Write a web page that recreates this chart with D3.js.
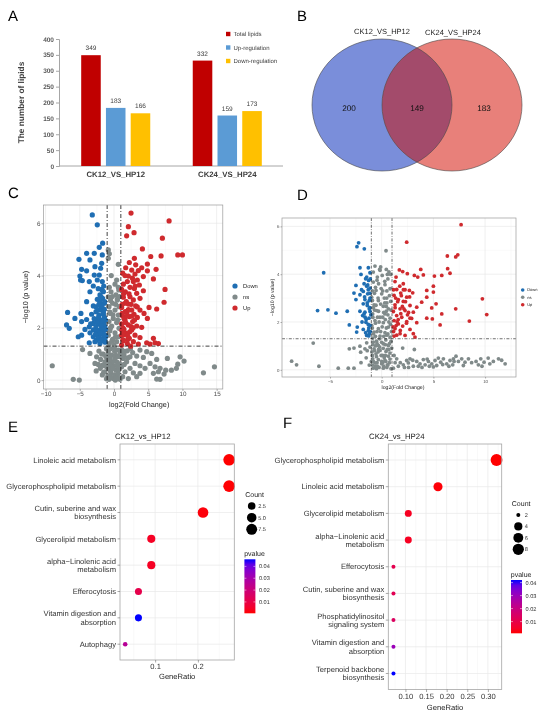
<!DOCTYPE html>
<html>
<head>
<meta charset="utf-8">
<script src="https://cdn.jsdelivr.net/npm/d3@7"></script>
<style>
  body { margin: 0; background: #fff; }
  svg { display: block; font-family: Arial, "Liberation Sans", sans-serif; will-change: transform; text-rendering: geometricPrecision; }
</style>
</head>
<body>
<svg id="fig" width="550" height="717"></svg>
<script>
/* ================= Data ================= */

// A: lipid counts
const barGroups = ["CK12_VS_HP12", "CK24_VS_HP24"];
const barSeries = ["Total lipids", "Up-regulation", "Down-regulation"];
const totalLipids = [349, 332];
const upRegulation = [183, 159];
const downRegulation = [166, 173];
const barTicks = [0, 50, 100, 150, 200, 250, 300, 350, 400];

// B: venn
const vennSets = ["CK12_VS_HP12", "CK24_VS_HP24"];
const vennCounts = [200, 149, 183]; // only left, shared, only right

// C: volcano CK12 vs HP12  [log2FC, -log10 p]
const volcC_down = [
  [-3.17,6.32],[-2.44,5.94],[-1.66,5.24],[-2.15,5.08],[-4.0,4.85],[-2.88,4.85],[-1.71,4.79],[-5.12,4.62],
  [-3.51,4.6],[-1.8,4.47],[-2.78,4.34],[-1.95,4.28],[-4.73,4.24],[-4.0,4.18],[-2.88,4.02],[-2.15,4.02],
  [-4.98,3.98],[-4.88,3.83],[-4.63,3.81],[-3.61,3.77],[-2.44,3.83],[-1.71,3.77],[-3.02,3.6],[-1.8,3.47],
  [-3.51,3.38],[-1.56,3.38],[-2.05,3.26],[-2.44,3.09],[-1.66,3.13],[-4.0,3.0],[-2.05,3.0],[-1.41,2.94],
  [-3.02,2.84],[-1.9,2.81],[-6.78,2.59],[-4.83,2.55],[-3.27,2.52],[-2.2,2.49],[-1.56,2.52],[-5.71,2.36],
  [-4.0,2.32],[-2.54,2.3],[-1.95,2.3],[-4.73,2.24],[-3.02,2.17],[-2.2,2.15],[-1.46,2.17],[-6.93,2.11],
  [-3.61,2.04],[-2.63,2.04],[-1.8,2.02],[-6.54,1.98],[-4.24,1.94],[-3.02,1.92],[-2.15,1.89],[-1.41,1.92],
  [-3.51,1.81],[-2.54,1.79],[-1.8,1.76],[-4.73,1.72],[-5.22,1.66],[-3.02,1.66],[-2.15,1.63],[-1.46,1.63],
  [-2.54,1.53],[-1.71,1.51],[-3.61,1.43],[-2.78,1.47],[-2.05,1.4],[-3.41,2.15],[-2.29,2.68],[-1.8,2.68],
  [-2.63,2.62],[-1.41,2.71],[-1.9,3.19],[-1.3,1.45],[-1.25,2.3],[-1.6,1.85],[-2.4,1.9],[-1.35,2.05],
  [-2.9,2.35],[-1.2,1.7],[-1.5,3.6],[-2.6,2.8],
  [-1.3,1.6],[-1.5,1.75],[-1.7,1.95],[-1.9,2.1],[-2.1,2.25],[-2.3,1.65],[-1.4,2.4],[-1.65,2.3],
  [-1.85,1.55],[-2.0,1.8],[-2.25,2.4],[-2.45,2.2],[-1.25,1.95],[-1.55,2.6],[-2.7,1.75],[-1.75,2.85],
  [-1.35,3.0],[-2.2,2.9],[-1.6,3.4],[-2.3,3.5]
];
const volcC_ns = [
  [-0.83,4.98],[-0.68,4.83],[-0.83,4.66],[0.63,4.43],[0.39,3.83],[0.15,3.67],[-0.68,3.55],[0.63,3.55],
  [-0.44,3.38],[0.29,3.26],[-0.83,3.19],[0.49,3.07],[-0.2,2.94],[-0.73,2.81],[0.73,2.81],[0.15,2.68],
  [-0.54,2.55],[0.63,2.49],[-0.1,2.36],[-0.73,2.24],[0.39,2.2],[-0.34,2.07],[0.73,1.98],[-0.59,1.89],
  [0.15,1.81],[-0.83,1.72],[0.63,1.66],[-0.2,1.56],[0.39,1.47],[-0.68,1.4],[0.0,1.34],
  [-9.02,0.55],[-5.95,0.03],[-5.07,0.0],[-4.59,1.17],[-2.2,1.11],[-1.56,1.0],[-2.54,0.89],[-1.95,0.79],
  [-1.32,0.7],[-1.66,0.57],[-1.07,0.51],[-1.32,0.32],[-0.83,1.09],[-0.34,0.96],[0.15,0.83],[-0.59,0.77],
  [0.49,0.68],[-0.2,0.57],[-0.83,0.45],[0.29,0.38],[-0.44,0.26],[0.49,0.15],[-0.1,0.06],[-0.73,0.03],
  [0.88,0.03],[1.12,1.17],[1.95,1.12],[2.73,1.05],[1.46,0.96],[3.8,1.15],[4.78,1.09],[5.51,1.02],
  [1.37,0.83],[2.34,0.89],[3.32,0.92],[4.29,0.87],[6.24,0.79],[7.8,0.83],[9.66,0.89],[10.24,0.73],
  [9.32,0.61],[1.85,0.7],[3.07,0.64],[3.8,0.55],[5.27,0.64],[1.12,0.51],[2.34,0.45],[4.54,0.45],
  [6.0,0.51],[6.73,0.45],[7.56,0.38],[8.39,0.38],[9.12,0.45],[1.61,0.32],[2.83,0.28],[3.8,0.26],
  [5.76,0.26],[6.49,0.32],[7.32,0.23],[1.27,0.13],[2.1,0.06],[3.32,0.13],[6.24,0.04],[6.73,0.03],
  [13.07,0.28],[14.68,0.51],[-3.51,1.02],[-2.78,0.64],
  [-1.8,1.0],[-1.2,0.9],[-0.5,1.2],[0.6,1.15],[-2.3,0.6],[-1.0,0.75],[0.3,0.95],[-0.3,0.5],[0.7,0.4],
  [-1.5,0.3],[0.1,0.2],[-0.9,0.15],[0.9,0.6],[1.5,0.6],[2.0,0.85],[-0.6,2.6],[0.5,3.1],[-0.4,4.0],
  [0.8,3.2],[0.1,1.1],[-0.2,0.7],[0.45,0.55],[-0.65,0.6],[1.6,1.1],[2.4,1.2],[-1.1,1.2],[0.2,0.0],
  [-0.5,0.35],[0.8,0.9],[-0.9,0.95],
  [-2.0,0.45],[-1.7,0.2],[-1.1,0.05],[-0.4,0.1],[0.3,0.05],[0.6,0.25],[-0.1,0.45],[-0.55,0.85],
  [0.05,1.25],[-0.95,1.25],[0.55,0.9],[0.95,1.05],[-1.4,0.55],[-2.6,0.35],[-0.3,1.5],[0.2,1.65],
  [-0.5,2.0],[0.55,2.3],[-0.15,2.5],[0.25,2.9],[-0.5,3.05],[0.7,3.45],[-0.25,3.2]
];
const volcC_up = [
  [2.49,6.39],[8.05,6.09],[2.1,5.87],[2.93,5.64],[1.85,5.52],[7.07,5.43],[4.15,5.02],[9.32,4.79],
  [10.0,4.79],[6.88,4.75],[5.37,4.73],[2.98,4.66],[2.24,4.5],[4.88,4.44],[3.17,4.41],[1.71,4.3],
  [4.05,4.3],[6.15,4.24],[2.59,4.21],[3.56,4.19],[4.88,4.18],[1.27,4.09],[3.07,4.06],[2.1,3.98],
  [4.29,3.96],[5.76,3.87],[3.41,3.83],[1.95,3.77],[2.83,3.77],[1.37,3.67],[3.71,3.64],[2.34,3.55],
  [2.98,3.51],[1.12,3.47],[7.46,3.47],[4.29,3.42],[1.66,3.38],[3.32,3.32],[2.34,3.19],[1.37,3.17],
  [3.8,3.13],[2.83,3.07],[7.32,2.98],[1.61,2.94],[2.1,2.91],[3.17,2.84],[1.12,2.78],[5.12,2.78],
  [6.24,2.72],[2.59,2.68],[3.8,2.68],[1.66,2.62],[4.39,2.55],[2.93,2.52],[1.27,2.45],[2.24,2.43],
  [3.41,2.4],[4.88,2.36],[1.61,2.3],[2.73,2.24],[1.12,2.15],[2.1,2.11],[3.32,2.07],[4.05,2.02],
  [1.46,1.94],[2.59,1.92],[1.8,1.79],[1.12,1.72],[3.07,1.72],[3.8,1.63],[2.24,1.6],[5.76,1.6],
  [1.37,1.51],[4.78,1.43],[6.0,1.43],[5.27,1.38],[6.49,1.4],[1.95,1.4],[2.83,1.47],[3.56,1.38],
  [1.12,1.34],[2.44,1.3],[1.3,2.0],[1.9,2.6],[2.5,2.05],[1.5,2.35],[1.2,2.9],[2.0,1.55],
  [1.3,1.55],[1.5,1.75],[1.7,2.2],[1.9,2.45],[2.1,2.7],[2.3,1.85],[2.6,2.45],[2.8,2.0],
  [3.0,2.3],[1.2,2.55],[1.4,3.3],[1.8,3.0],[2.2,3.3],[2.5,2.9],[3.1,3.6],[1.6,4.0],
  [2.7,3.9],[1.15,1.9],[3.4,2.8],[2.0,1.7]
];

// D: volcano CK24 vs HP24
const volcD_down = [
  [-5.61,4.06],[-6.2,2.48],[-5.2,2.51],[-4.42,2.37],[-3.33,2.45],[-3.13,1.88],[-2.23,5.31],[-2.39,5.15],
  [-1.68,5.06],[-2.1,4.27],[-1.29,4.27],[-2.0,3.99],[-1.13,4.06],[-1.55,3.81],[-1.26,3.74],[-2.49,3.53],
  [-1.45,3.5],[-1.13,3.42],[-1.78,3.28],[-2.68,3.21],[-1.36,3.18],[-2.1,3.14],[-2.49,2.94],[-1.62,2.94],
  [-1.2,2.9],[-1.78,2.76],[-1.39,2.69],[-2.1,2.45],[-1.62,2.41],[-1.13,2.44],[-1.84,2.27],[-1.23,2.16],
  [-1.52,1.99],[-1.13,1.86],[-2.36,1.79],[-1.78,1.69],[-1.29,1.64],[-2.42,1.58],[-1.45,1.44],[-1.2,1.51],
  [-1.13,3.0],[-1.45,3.88],[-1.3,3.35],[-1.6,2.2],[-1.25,1.75],[-1.15,2.6],
  [-1.1,1.6],[-1.3,1.9],[-1.5,2.1],[-1.7,2.35],[-1.2,2.55],[-1.4,2.8],[-1.65,3.05],[-1.15,3.2],
  [-1.35,3.55],[-1.7,3.6],[-1.1,3.8],[-1.9,2.0],[-1.25,1.42],[-1.95,3.35],[-1.05,2.3],[-1.55,1.55]
];
const volcD_ns = [
  [0.42,4.98],[-0.65,4.34],[-0.81,4.09],[-0.16,4.16],[0.55,3.99],[0.87,3.99],[-0.42,3.88],[0.32,3.56],
  [-0.81,3.67],[0.81,3.39],[-0.55,3.32],[0.0,3.18],[-0.97,3.04],[0.49,3.0],[-0.32,2.9],[0.87,2.86],
  [-0.74,2.72],[0.16,2.66],[0.65,2.55],[-0.49,2.48],[-0.87,2.34],[0.32,2.34],[-0.16,2.2],[0.81,2.16],
  [-0.65,2.06],[0.16,1.97],[-0.97,1.86],[0.65,1.79],[-0.32,1.72],[-0.74,1.58],[0.32,1.55],[-0.16,1.41],
  [0.81,1.37],[-0.87,1.33],
  [-8.71,0.36],[-8.23,0.21],[-6.62,1.12],[-6.07,0.15],[-4.2,0.07],[-3.13,0.88],[-3.23,0.07],[-2.68,0.07],
  [-2.68,0.91],[-2.1,0.99],[-2.03,0.74],[-1.62,0.88],[-1.45,1.13],[-1.13,0.95],[-0.81,1.16],[-0.32,1.02],
  [0.16,1.09],[0.65,1.02],[-0.74,0.88],[-0.16,0.81],[0.42,0.77],[0.97,0.91],[-0.55,0.67],[0.1,0.6],
  [0.65,0.57],[-0.87,0.46],[-0.32,0.43],[0.32,0.39],[-0.65,0.29],[0.0,0.25],[0.55,0.21],[-0.42,0.15],
  [0.16,0.07],[-0.81,0.07],[1.45,0.46],[2.03,0.91],[3.16,0.85],[1.13,0.07],[1.61,0.15],[2.09,0.21],
  [2.58,0.29],[3.06,0.15],[3.39,0.35],[3.71,0.25],[4.03,0.43],[4.2,0.21],[4.52,0.35],[4.84,0.25],
  [5.16,0.39],[5.32,0.18],[5.71,0.32],[5.97,0.46],[6.29,0.25],[6.61,0.39],[6.87,0.21],[7.19,0.57],
  [7.42,0.35],[7.74,0.46],[8.06,0.32],[8.39,0.46],[9.13,0.35],[9.35,0.21],[9.58,0.46],[9.9,0.32],
  [10.3,0.49],[10.46,0.25],[11.3,0.46],[11.94,0.25],[2.74,0.46],[2.42,0.39],[3.54,0.15],[4.61,0.15],
  [5.48,0.49],[6.94,0.46],
  [-0.3,3.6],[0.6,3.8],[-0.9,2.9],[0.2,2.4],[-0.5,1.2],[0.4,1.25],[-0.2,0.95],[0.8,0.7],[-0.9,0.6],
  [0.0,0.35],[0.5,0.1],[-0.5,0.05],[0.9,1.2],[-0.1,1.6],[0.3,2.8],[-0.7,3.2],[0.7,2.0],[-0.4,2.2],
  [0.1,3.3],[-0.8,1.5],[1.2,0.6],[1.8,0.3],[2.2,0.1],[-1.5,0.5],[-1.2,0.2],[-2.0,0.3],[0.7,4.1],
  [-0.2,4.2],[0.5,1.45],[-0.6,1.0],[0.25,0.5],[-0.35,0.75],[0.75,0.3],[-0.7,2.5],[0.45,2.65],
  [-0.9,0.2],[-0.6,0.15],[-0.25,0.1],[0.2,0.15],[0.6,0.2],[0.9,0.05],[-0.8,0.35],[-0.45,0.3],
  [0.1,0.3],[0.4,0.35],[0.8,0.45],[-0.95,0.75],[-0.5,0.55],[-0.05,0.6],[0.35,0.6],[0.7,0.85],
  [-0.7,0.8],[-0.3,0.85],[0.15,0.9],[0.55,0.85],[-0.85,1.05],[-0.45,1.1],[0.0,1.15],[0.35,1.05],
  [0.75,1.1],[-0.6,1.4],[-0.2,1.3],[0.2,1.4],[0.6,1.5],[0.95,1.6],[-0.9,1.75],[-0.45,1.6],
  [0.05,1.8],[0.45,1.75],[0.85,1.9],[-0.6,1.95],[-0.25,2.0],[0.35,2.1],[0.6,2.3],[-0.85,2.2],
  [-0.3,2.45],[0.1,2.2],[0.45,2.45],[0.9,2.5],[-0.55,2.7],[-0.1,2.75],[0.5,2.8],[-0.8,2.6],
  [-0.35,3.0],[0.25,3.0],[0.75,3.1],[-0.6,3.45],[-0.05,3.4],[0.5,3.3],[-0.9,3.3],[0.3,3.7],
  [-0.45,3.75],[0.05,3.95],[-0.1,4.3],[0.45,4.2],
  [1.3,0.3],[2.6,0.1],[3.0,0.4],[3.9,0.1],[4.4,0.45],[5.0,0.12],[5.9,0.22],[6.5,0.15],
  [7.0,0.35],[7.9,0.18],[8.7,0.3],[9.7,0.15],[10.8,0.35],[11.6,0.4],[-1.4,0.8],[-1.0,0.35]
];
const volcD_up = [
  [7.68,6.07],[2.42,5.34],[6.35,4.76],[7.16,4.72],[7.36,4.81],[6.38,4.23],[6.61,4.04],[1.71,4.18],
  [2.03,4.11],[3.78,4.2],[2.48,4.02],[3.16,3.95],[4.03,3.97],[3.49,3.88],[1.39,3.88],[5.1,3.92],
  [5.81,3.95],[1.29,3.69],[2.09,3.6],[5.0,3.5],[1.45,3.36],[2.26,3.35],[2.68,3.32],[4.36,3.32],
  [1.84,3.21],[3.0,3.22],[5.0,3.25],[1.2,3.11],[2.42,3.04],[4.36,3.04],[9.74,2.97],[1.61,2.94],
  [2.09,2.86],[3.87,2.83],[5.26,2.76],[1.29,2.72],[2.74,2.69],[3.39,2.62],[4.84,2.59],[1.78,2.55],
  [7.16,2.55],[2.26,2.48],[1.13,2.44],[3.06,2.41],[5.81,2.34],[10.16,2.31],[1.45,2.27],[1.94,2.2],
  [2.74,2.16],[4.36,2.16],[4.9,2.13],[1.2,2.06],[2.42,2.02],[8.48,2.04],[1.61,1.92],[3.39,1.97],
  [5.65,1.88],[2.03,1.83],[1.29,1.72],[2.74,1.69],[3.06,1.51],[1.78,1.51],[3.22,1.37],[1.2,1.41],
  [2.26,1.44],[1.5,2.0],[2.0,2.65],[1.35,3.0],[1.8,1.65],[2.5,2.3],
  [1.15,1.6],[1.4,1.85],[1.6,2.1],[1.85,2.35],[2.15,2.55],[1.3,2.6],[1.55,2.85],[1.9,3.1],
  [2.3,2.85],[2.6,2.4],[1.15,3.35],[1.75,3.5],[2.4,1.95],[2.9,2.15],[1.1,1.8],[2.1,3.35],
  [1.45,1.45],[2.7,3.05]
];

// E: enrichment CK12 vs HP12
const enrichE_terms = ["Linoleic acid metabolism", "Glycerophospholipid metabolism",
  "Cutin, suberine and wax\nbiosynthesis", "Glycerolipid metabolism", "alpha−Linolenic acid\nmetabolism",
  "Efferocytosis", "Vitamin digestion and\nabsorption", "Autophagy"];
const enrichE_ratio = [0.273, 0.273, 0.212, 0.091, 0.091, 0.061, 0.061, 0.030];
const enrichE_count = [9, 9, 7, 3, 3, 2, 2, 1];
const enrichE_p = [0.0004, 0.0006, 0.0012, 0.004, 0.004, 0.011, 0.046, 0.026];
const enrichE_countKeys = [2.5, 5.0, 7.5];
const enrichE_pTicks = [0.01, 0.02, 0.03, 0.04];

// F: enrichment CK24 vs HP24
const enrichF_terms = ["Glycerophospholipid metabolism", "Linoleic acid metabolism", "Glycerolipid metabolism",
  "alpha−Linolenic acid\nmetabolism", "Efferocytosis", "Cutin, suberine and wax\nbiosynthesis",
  "Phosphatidylinositol\nsignaling system", "Vitamin digestion and\nabsorption", "Terpenoid backbone\nbiosynthesis"];
const enrichF_ratio = [0.321, 0.179, 0.107, 0.107, 0.071, 0.071, 0.071, 0.071, 0.071];
const enrichF_count = [9, 5, 3, 3, 2, 2, 2, 2, 2];
const enrichF_p = [0.001, 0.0015, 0.004, 0.004, 0.011, 0.012, 0.014, 0.030, 0.042];
const enrichF_countKeys = [2, 4, 6, 8];
const enrichF_pTicks = [0.01, 0.02, 0.03, 0.04];

/* ================= Helpers ================= */

const svg = d3.select("#fig");

function label(g, x, y, s, size, opts = {}) {
  return g.append("text")
    .attr("x", x).attr("y", y)
    .attr("font-size", size)
    .attr("text-anchor", opts.anchor || "start")
    .attr("font-weight", opts.weight || "normal")
    .attr("fill", opts.fill || "#000")
    .attr("transform", opts.rotate ? `rotate(-90,${x},${y})` : null)
    .text(s);
}

// panel letters
[["A", 8, 21], ["B", 297, 21], ["C", 8, 198], ["D", 297, 200], ["E", 8, 432], ["F", 283, 428]]
  .forEach(([s, x, y]) => label(svg, x, y, s, 15));

/* ================= A: bar chart ================= */

function drawBars() {
  const g = svg.append("g");
  const x0 = d3.scaleBand().domain(barGroups).range([60, 283]).paddingInner(0.381).paddingOuter(0.19);
  const x1 = d3.scaleBand().domain(barSeries).range([0, x0.bandwidth()]).paddingInner(0.21).paddingOuter(0);
  const y = d3.scaleLinear().domain([0, 400]).range([166, 39]);
  const color = d3.scaleOrdinal().domain(barSeries).range(["#C00000", "#5B9BD5", "#FFC000"]);
  const seriesValues = [totalLipids, upRegulation, downRegulation];

  const yAxis = g.append("g")
    .attr("transform", "translate(59,0)")
    .call(d3.axisLeft(y).tickValues(barTicks).tickSize(3).tickPadding(2));
  yAxis.select(".domain").attr("stroke", "#A6A6A6");
  yAxis.selectAll(".tick line").attr("stroke", "#A6A6A6");
  yAxis.selectAll("text").attr("font-size", 6.5).attr("font-weight", "bold")
    .attr("fill", "#595959").attr("font-family", null);

  g.append("line").attr("x1", 59).attr("x2", 283).attr("y1", y(0)).attr("y2", y(0))
    .attr("stroke", "#A6A6A6");

  barGroups.forEach((grp, gi) => {
    barSeries.forEach((ser, si) => {
      const v = seriesValues[si][gi];
      const bx = x0(grp) + x1(ser);
      g.append("rect").attr("x", bx).attr("y", y(v))
        .attr("width", x1.bandwidth()).attr("height", y(0) - y(v))
        .attr("fill", color(ser));
      label(g, bx + x1.bandwidth() / 2, y(v) - 5, v, 6.5, { anchor: "middle", fill: "#404040" });
    });
    label(g, x0(grp) + x0.bandwidth() / 2, 177, grp, 7.8, { anchor: "middle", weight: "bold", fill: "#404040" });
  });

  label(g, 24, y(200), "The number of lipids", 8.3, { anchor: "middle", weight: "bold", fill: "#404040", rotate: true });

  const ly = d3.scalePoint().domain(barSeries).range([34, 61]);
  barSeries.forEach(s => {
    g.append("rect").attr("x", 226).attr("y", ly(s) - 2.2).attr("width", 4.4).attr("height", 4.4).attr("fill", color(s));
    label(g, 233.5, ly(s) + 2.2, s, 6, { fill: "#404040" });
  });
}

/* ================= B: venn ================= */

function drawVenn() {
  const g = svg.append("g");
  const vx = d3.scalePoint().domain(vennSets).range([382, 452]);
  const cy = 105, rx = 70, ry = 66;
  const defs = g.append("defs");
  defs.append("clipPath").attr("id", "vennLeft")
    .append("ellipse").attr("cx", vx(vennSets[0])).attr("cy", cy).attr("rx", rx).attr("ry", ry);

  g.append("ellipse").attr("cx", vx(vennSets[0])).attr("cy", cy).attr("rx", rx).attr("ry", ry).attr("fill", "#7A8EDA");
  g.append("ellipse").attr("cx", vx(vennSets[1])).attr("cy", cy).attr("rx", rx).attr("ry", ry).attr("fill", "#E8807A");
  g.append("ellipse").attr("cx", vx(vennSets[1])).attr("cy", cy).attr("rx", rx).attr("ry", ry)
    .attr("fill", "#A34B6B").attr("clip-path", "url(#vennLeft)");
  vennSets.forEach(s => {
    g.append("ellipse").attr("cx", vx(s)).attr("cy", cy).attr("rx", rx).attr("ry", ry)
      .attr("fill", "none").attr("stroke", "#4a4a4a").attr("stroke-width", 0.6);
  });

  label(g, vx(vennSets[0]), 34, vennSets[0], 7.5, { anchor: "middle", fill: "#222" });
  label(g, vx(vennSets[1]) + 1, 35, vennSets[1], 7.5, { anchor: "middle", fill: "#222" });

  const mid = (vx(vennSets[0]) + vx(vennSets[1])) / 2;
  const cx = [vx(vennSets[0]) - 33, mid, vx(vennSets[1]) + 32];
  vennCounts.forEach((c, i) => label(g, cx[i], 111, c, 8.2, { anchor: "middle", fill: "#111" }));
}

/* ================= C & D: volcano ================= */

function drawVolcano(o) {
  const g = svg.append("g");
  const x = d3.scaleLinear().domain(o.xdom).range([o.left, o.right]);
  const y = d3.scaleLinear().domain(o.ydom).range([o.bottom, o.top]);

  g.append("rect").attr("x", o.left).attr("y", o.top)
    .attr("width", o.right - o.left).attr("height", o.bottom - o.top).attr("fill", "#fff");

  o.xminor.forEach(v => g.append("line").attr("x1", x(v)).attr("x2", x(v)).attr("y1", o.top).attr("y2", o.bottom)
    .attr("stroke", "#F3F3F3").attr("stroke-width", 0.4));
  o.yminor.forEach(v => g.append("line").attr("x1", o.left).attr("x2", o.right).attr("y1", y(v)).attr("y2", y(v))
    .attr("stroke", "#F3F3F3").attr("stroke-width", 0.4));
  o.xt.forEach(v => g.append("line").attr("x1", x(v)).attr("x2", x(v)).attr("y1", o.top).attr("y2", o.bottom)
    .attr("stroke", "#E6E6E6").attr("stroke-width", 0.6));
  o.yt.forEach(v => g.append("line").attr("x1", o.left).attr("x2", o.right).attr("y1", y(v)).attr("y2", y(v))
    .attr("stroke", "#E6E6E6").attr("stroke-width", 0.6));

  const groups = [
    { pts: o.ns, color: "#808A8A" },
    { pts: o.down, color: "#1F6EB3" },
    { pts: o.up, color: "#CF2A2E" }
  ];
  groups.forEach(grp => {
    g.selectAll(null).data(grp.pts).enter().append("circle")
      .attr("cx", d => x(d[0])).attr("cy", d => y(d[1])).attr("r", o.r)
      .attr("fill", grp.color);
  });

  const dash = o.dash;
  [-1, 1].forEach(v => g.append("line").attr("x1", x(v)).attr("x2", x(v)).attr("y1", o.top).attr("y2", o.bottom)
    .attr("stroke", "#111").attr("stroke-width", o.lw).attr("stroke-dasharray", dash));
  g.append("line").attr("x1", o.left).attr("x2", o.right).attr("y1", y(1.3)).attr("y2", y(1.3))
    .attr("stroke", "#111").attr("stroke-width", o.lw).attr("stroke-dasharray", dash);

  g.append("rect").attr("x", o.left).attr("y", o.top)
    .attr("width", o.right - o.left).attr("height", o.bottom - o.top)
    .attr("fill", "none").attr("stroke", "#9A9A9A").attr("stroke-width", 0.7);

  const xa = g.append("g").attr("transform", `translate(0,${o.bottom})`)
    .call(d3.axisBottom(x).tickValues(o.xt).tickSize(o.tick).tickPadding(1).tickFormat(d3.format("d")));
  const ya = g.append("g").attr("transform", `translate(${o.left},0)`)
    .call(d3.axisLeft(y).tickValues(o.yt).tickSize(o.tick).tickPadding(1).tickFormat(d3.format("d")));
  [xa, ya].forEach(a => {
    a.select(".domain").remove();
    a.selectAll(".tick line").attr("stroke", "#666").attr("stroke-width", 0.5);
    a.selectAll("text").attr("font-size", o.tickFs).attr("fill", "#4D4D4D").attr("font-family", null);
  });

  label(g, (o.left + o.right) / 2 + o.xlabShift, o.xlabY, "log2(Fold Change)", o.labFs, { anchor: "middle", fill: "#222" });
  label(g, o.ylabX, (o.top + o.bottom) / 2, "−log10 (p value)", o.labFs, { anchor: "middle", fill: "#222", rotate: true });

  const legend = [["Down", "#1F6EB3"], ["ns", "#808A8A"], ["Up", "#CF2A2E"]];
  legend.forEach(([s, c], i) => {
    g.append("circle").attr("cx", o.legX).attr("cy", o.legY[i]).attr("r", o.legR).attr("fill", c);
    label(g, o.legX + o.legGap, o.legY[i] + o.legFs * 0.35, s, o.legFs, { fill: "#222" });
  });
}

/* ================= E & F: enrichment bubble ================= */

function drawEnrich(o) {
  const g = svg.append("g");
  const ext = d3.extent(o.ratio);
  const pad = (ext[1] - ext[0]) * 0.05;
  const x = d3.scaleLinear().domain([ext[0] - pad, ext[1] + pad]).range([o.left, o.right]);
  const y = d3.scalePoint().domain(o.terms).range([o.top, o.bottom]).padding(0.6);
  const cmin = d3.min(o.count), cmax = d3.max(o.count);
  const size = d3.scaleSqrt().domain([0, cmax - cmin]).range(o.rRange);
  const pext = d3.extent(o.p);
  const color = d3.scaleLinear().domain(pext).range(["red", "blue"]).interpolate(d3.interpolateLab);

  label(g, o.titleX, o.top - 5, o.title, 7.8, { fill: "#222" });

  g.append("rect").attr("x", o.left).attr("y", o.top)
    .attr("width", o.right - o.left).attr("height", o.bottom - o.top).attr("fill", "#fff");
  o.xminor.forEach(v => g.append("line").attr("x1", x(v)).attr("x2", x(v)).attr("y1", o.top).attr("y2", o.bottom)
    .attr("stroke", "#F3F3F3").attr("stroke-width", 0.5));
  o.xt.forEach(v => g.append("line").attr("x1", x(v)).attr("x2", x(v)).attr("y1", o.top).attr("y2", o.bottom)
    .attr("stroke", "#E8E8E8").attr("stroke-width", 0.7));
  o.terms.forEach(t => g.append("line").attr("x1", o.left).attr("x2", o.right).attr("y1", y(t)).attr("y2", y(t))
    .attr("stroke", "#E8E8E8").attr("stroke-width", 0.7));

  g.selectAll(null).data(o.terms).enter().append("circle")
    .attr("cx", (d, i) => x(o.ratio[i])).attr("cy", d => y(d))
    .attr("r", (d, i) => size(o.count[i] - cmin))
    .attr("fill", (d, i) => color(o.p[i]));

  g.append("rect").attr("x", o.left).attr("y", o.top)
    .attr("width", o.right - o.left).attr("height", o.bottom - o.top)
    .attr("fill", "none").attr("stroke", "#A6A6A6").attr("stroke-width", 0.8);

  // y labels
  o.terms.forEach(t => {
    g.append("line").attr("x1", o.left - 2.5).attr("x2", o.left).attr("y1", y(t)).attr("y2", y(t))
      .attr("stroke", "#555").attr("stroke-width", 0.5);
    const lines = t.split("\n");
    lines.forEach((ln, i) => {
      label(g, o.left - 4, y(t) + 2.7 + (i - (lines.length - 1) / 2) * 8.3, ln, 7.6, { anchor: "end", fill: "#333" });
    });
  });

  const xa = g.append("g").attr("transform", `translate(0,${o.bottom})`)
    .call(d3.axisBottom(x).tickValues(o.xt).tickSize(2.5).tickPadding(1.5).tickFormat(d3.format(o.fmt)));
  xa.select(".domain").remove();
  xa.selectAll(".tick line").attr("stroke", "#555").attr("stroke-width", 0.5);
  xa.selectAll("text").attr("font-size", 7.6).attr("fill", "#333").attr("font-family", null);
  label(g, (o.left + o.right) / 2, o.bottom + o.xlabDy, "GeneRatio", 7.6, { anchor: "middle", fill: "#222" });

  // count legend
  label(g, o.legX - 6.5, o.cntTitleY, "Count", 7, { fill: "#222" });
  const ky = d3.scalePoint().domain(o.countKeys).range(o.cntYRange);
  o.countKeys.forEach(k => {
    g.append("circle").attr("cx", o.legX).attr("cy", ky(k)).attr("r", size(k - cmin)).attr("fill", "#000");
    label(g, o.legX + 6.5, ky(k) + 2, d3.format(o.keyFmt)(k), 5.6, { fill: "#333" });
  });

  // p-value colourbar
  label(g, o.legX - 7.5, o.barTop - 3.5, "pvalue", 7, { fill: "#222" });
  const gid = "grad" + o.id;
  const grad = g.append("defs").append("linearGradient").attr("id", gid)
    .attr("x1", "0%").attr("y1", "100%").attr("x2", "0%").attr("y2", "0%");
  d3.range(0, 1.0001, 0.1).forEach(t => {
    grad.append("stop").attr("offset", t).attr("stop-color", color(pext[0] + t * (pext[1] - pext[0])));
  });
  const bx = o.legX - 7.3, bw = 11;
  g.append("rect").attr("x", bx).attr("y", o.barTop).attr("width", bw).attr("height", o.barBot - o.barTop)
    .attr("fill", `url(#${gid})`);
  const py = d3.scaleLinear().domain(pext).range([o.barBot, o.barTop]);
  o.pTicks.forEach(v => {
    g.append("line").attr("x1", bx).attr("x2", bx + 2).attr("y1", py(v)).attr("y2", py(v)).attr("stroke", "#fff").attr("stroke-width", 0.5);
    g.append("line").attr("x1", bx + bw - 2).attr("x2", bx + bw).attr("y1", py(v)).attr("y2", py(v)).attr("stroke", "#fff").attr("stroke-width", 0.5);
    label(g, bx + bw + 3.5, py(v) + 2, d3.format(".2f")(v), 5.6, { fill: "#333" });
  });
}

/* ================= Init ================= */

drawBars();
drawVenn();

drawVolcano({
  down: volcC_down, ns: volcC_ns, up: volcC_up,
  left: 43.5, right: 222.8, top: 205, bottom: 389,
  xdom: [-10.3, 15.9], ydom: [-0.34, 6.7],
  xt: [-10, -5, 0, 5, 10, 15], xminor: [-7.5, -2.5, 2.5, 7.5, 12.5],
  yt: [0, 2, 4, 6], yminor: [1, 3, 5],
  r: 2.6, lw: 0.8, dash: "4,2,1,2", tick: 2, tickFs: 6.3, labFs: 7.3,
  xlabY: 406.5, xlabShift: 6, ylabX: 28,
  legX: 235, legY: [286, 297, 308], legR: 2.6, legGap: 8, legFs: 5.8
});

drawVolcano({
  down: volcD_down, ns: volcD_ns, up: volcD_up,
  left: 282, right: 516, top: 218, bottom: 377,
  xdom: [-9.64, 12.99], ydom: [-0.3, 6.35],
  xt: [-5, 0, 5, 10], xminor: [-7.5, -2.5, 2.5, 7.5, 12.5],
  yt: [0, 2, 4, 6], yminor: [1, 3, 5],
  r: 1.9, lw: 0.6, dash: "3,1.5,0.8,1.5", tick: 1.5, tickFs: 4.4, labFs: 5.2,
  xlabY: 389, xlabShift: 4, ylabX: 274,
  legX: 522.7, legY: [290, 297.3, 304.7], legR: 1.8, legGap: 4.5, legFs: 4
});

drawEnrich({
  id: "E", terms: enrichE_terms, ratio: enrichE_ratio, count: enrichE_count, p: enrichE_p,
  left: 120, right: 234.3, top: 444, bottom: 660, title: "CK12_vs_HP12", titleX: 115,
  xt: [0.1, 0.2], xminor: [0.05, 0.15, 0.25], fmt: ".1f", rRange: [2.3, 5.8], xlabDy: 18.5,
  legX: 251.7, cntTitleY: 497, countKeys: enrichE_countKeys, cntYRange: [506, 529.3], keyFmt: ".1f",
  barTop: 559.3, barBot: 613.3, pTicks: enrichE_pTicks
});

drawEnrich({
  id: "F", terms: enrichF_terms, ratio: enrichF_ratio, count: enrichF_count, p: enrichF_p,
  left: 388.3, right: 501.7, top: 444, bottom: 689.5, title: "CK24_vs_HP24", titleX: 369,
  xt: [0.10, 0.15, 0.20, 0.25, 0.30], xminor: [0.075, 0.125, 0.175, 0.225, 0.275, 0.325], fmt: ".2f",
  rRange: [2.0, 5.9], xlabDy: 20,
  legX: 518.3, cntTitleY: 506, countKeys: enrichF_countKeys, cntYRange: [515, 549.3], keyFmt: "d",
  barTop: 580, barBot: 633.3, pTicks: enrichF_pTicks
});
</script>
</body>
</html>
